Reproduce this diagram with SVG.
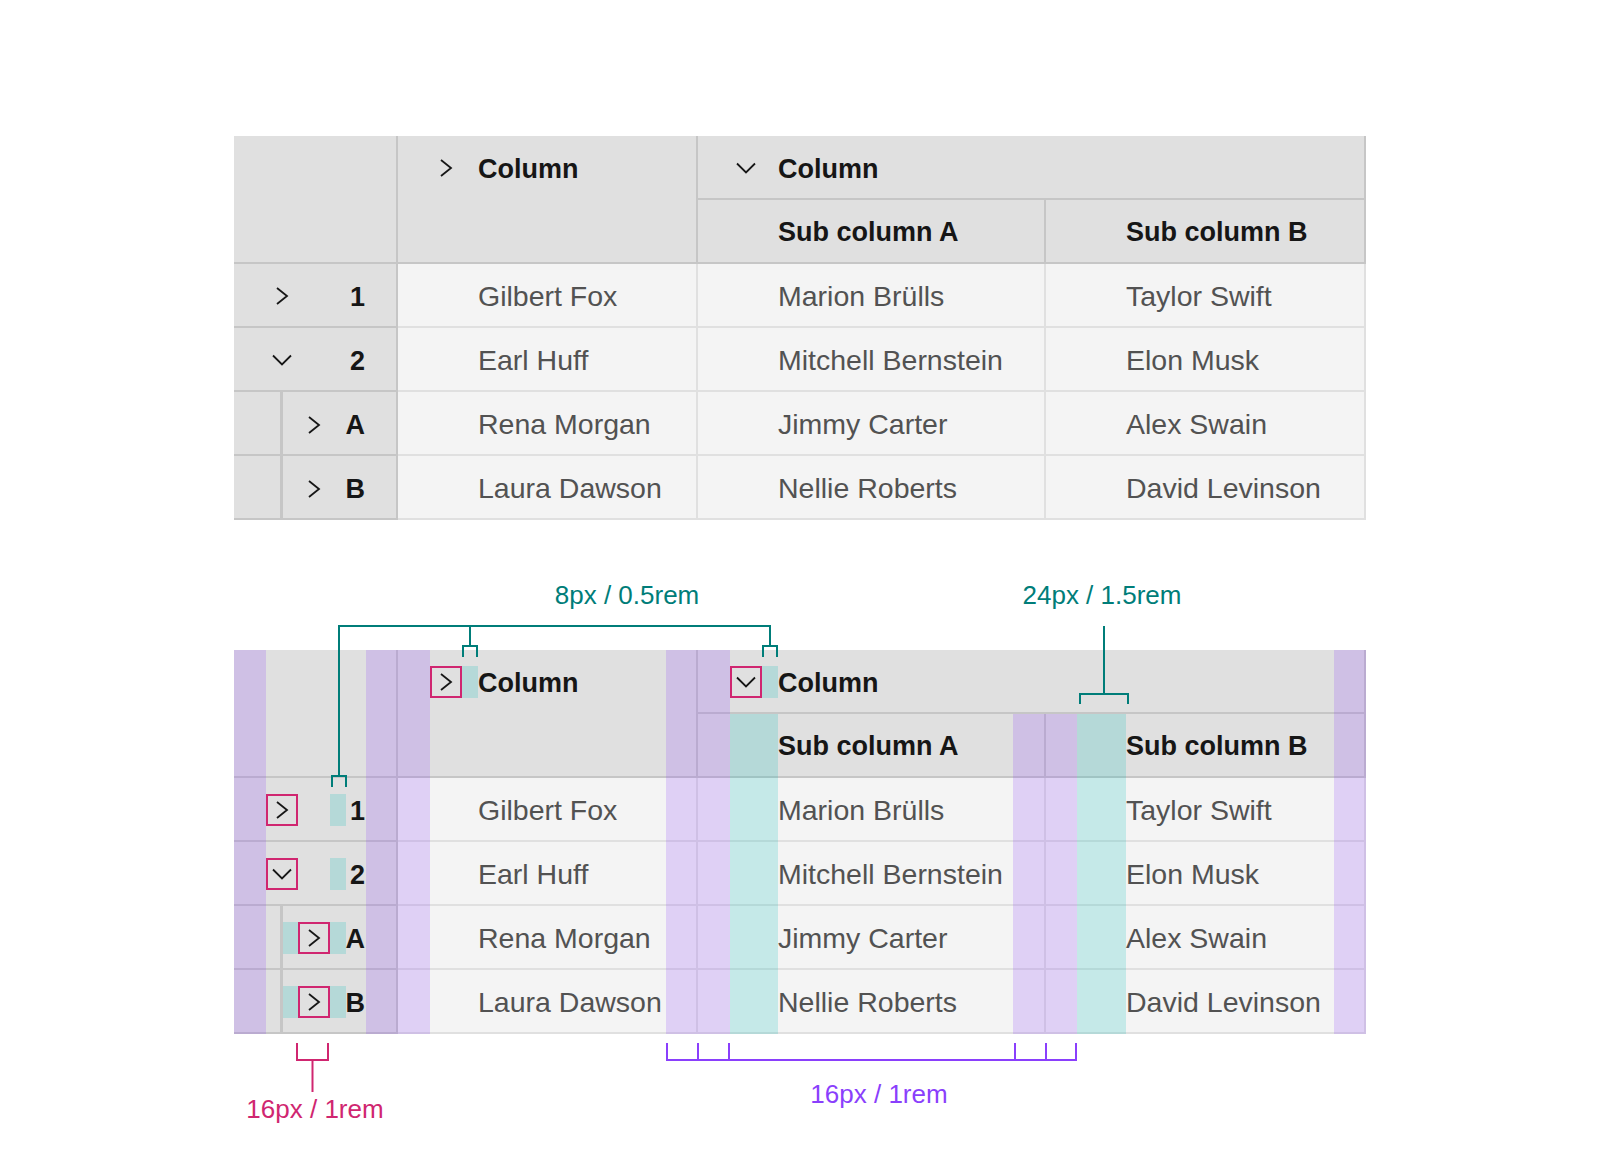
<svg xmlns="http://www.w3.org/2000/svg" xmlns:xlink="http://www.w3.org/1999/xlink" width="1600" height="1170" viewBox="0 0 1600 1170">
<style>
.hd{font-family:'Liberation Sans',Arial,sans-serif;font-weight:700;font-size:27px;fill:#161616}
.num{font-family:'Liberation Sans',Arial,sans-serif;font-weight:700;font-size:27px;fill:#161616;text-anchor:end}
.cell{font-family:'Liberation Sans',Arial,sans-serif;font-weight:400;font-size:28.5px;fill:#525252}
.lbl{font-family:'Liberation Sans',Arial,sans-serif;font-weight:400;font-size:26px;text-anchor:middle}
.hfill{fill:#e0e0e0}
.dfill{fill:#f4f4f4}
.ln1{fill:#c6c6c6}
.ln2{fill:#e0e0e0}
.chev{fill:none;stroke:#161616;stroke-width:1.8}
.pu{fill:#8a3ffc;fill-opacity:0.2}
.te{fill:#08bdba;fill-opacity:0.2}
.pk{fill:none;stroke:#d02670;stroke-width:2}
.cTeal{fill:none;stroke:#007d79;stroke-width:2}
.cPink{fill:none;stroke:#d02670;stroke-width:2}
.cPurple{fill:none;stroke:#8a3ffc;stroke-width:2}
</style>
<defs>
<path id="chr" class="chev" d="M-5,-8 L5,0 L-5,8"/>
<path id="chd" class="chev" d="M-9,-4.5 L0,4.5 L9,-4.5"/>
</defs>
<rect width="1600" height="1170" fill="#ffffff"/>

<!-- ===== Top table ===== -->
<g id="table-top">
  <g id="top-grid">
    <rect class="hfill" x="234" y="136" width="1132" height="128"/>
    <rect class="hfill" x="234" y="264" width="162" height="256"/>
    <rect class="dfill" x="396" y="264" width="970" height="256"/>
    <rect class="ln1" x="698" y="198" width="668" height="2"/>
    <rect class="ln1" x="234" y="262" width="1132" height="2"/>
    <rect class="ln1" x="696" y="136" width="2" height="128"/>
    <rect class="ln1" x="1044" y="200" width="2" height="64"/>
    <rect class="ln1" x="1364" y="136" width="2" height="128"/>
    <rect class="ln2" x="398" y="326" width="968" height="2"/>
    <rect class="ln2" x="398" y="390" width="968" height="2"/>
    <rect class="ln2" x="398" y="454" width="968" height="2"/>
    <rect class="ln2" x="398" y="518" width="968" height="2"/>
    <rect class="ln1" x="234" y="326" width="162" height="2"/>
    <rect class="ln1" x="234" y="390" width="162" height="2"/>
    <rect class="ln1" x="234" y="454" width="162" height="2"/>
    <rect class="ln1" x="234" y="518" width="162" height="2"/>
    <rect class="ln2" x="696" y="264" width="2" height="256"/>
    <rect class="ln2" x="1044" y="264" width="2" height="256"/>
    <rect class="ln2" x="1364" y="264" width="2" height="256"/>
    <rect class="ln1" x="396" y="136" width="2" height="384"/>
    <rect class="ln1" x="280" y="392" width="3" height="128"/>
  </g>
  <g id="top-header">
    <use xlink:href="#chr" x="446" y="168"/>
    <text class="hd" x="478" y="178">Column</text>
    <use xlink:href="#chd" x="746" y="168"/>
    <text class="hd" x="778" y="178">Column</text>
    <text class="hd" x="778" y="241">Sub column A</text>
    <text class="hd" x="1126" y="241">Sub column B</text>
  </g>
  <g id="top-row-1">
    <use xlink:href="#chr" x="282" y="296"/>
    <text class="num" x="365" y="306">1</text>
    <text class="cell" x="478" y="306">Gilbert Fox</text>
    <text class="cell" x="778" y="306">Marion Brülls</text>
    <text class="cell" x="1126" y="306">Taylor Swift</text>
  </g>
  <g id="top-row-2">
    <use xlink:href="#chd" x="282" y="360"/>
    <text class="num" x="365" y="370">2</text>
    <text class="cell" x="478" y="370">Earl Huff</text>
    <text class="cell" x="778" y="370">Mitchell Bernstein</text>
    <text class="cell" x="1126" y="370">Elon Musk</text>
  </g>
  <g id="top-row-A">
    <use xlink:href="#chr" x="314" y="425"/>
    <text class="num" x="365" y="434">A</text>
    <text class="cell" x="478" y="434">Rena Morgan</text>
    <text class="cell" x="778" y="434">Jimmy Carter</text>
    <text class="cell" x="1126" y="434">Alex Swain</text>
  </g>
  <g id="top-row-B">
    <use xlink:href="#chr" x="314" y="489"/>
    <text class="num" x="365" y="498">B</text>
    <text class="cell" x="478" y="498">Laura Dawson</text>
    <text class="cell" x="778" y="498">Nellie Roberts</text>
    <text class="cell" x="1126" y="498">David Levinson</text>
  </g>
</g>

<!-- ===== Bottom (annotated) table ===== -->
<g id="table-bottom">
  <g id="bottom-grid" transform="translate(0,514)">
    <rect class="hfill" x="234" y="136" width="1132" height="128"/>
    <rect class="hfill" x="234" y="264" width="162" height="256"/>
    <rect class="dfill" x="396" y="264" width="970" height="256"/>
    <rect class="ln1" x="698" y="198" width="668" height="2"/>
    <rect class="ln1" x="234" y="262" width="1132" height="2"/>
    <rect class="ln1" x="696" y="136" width="2" height="128"/>
    <rect class="ln1" x="1044" y="200" width="2" height="64"/>
    <rect class="ln1" x="1364" y="136" width="2" height="128"/>
    <rect class="ln2" x="398" y="326" width="968" height="2"/>
    <rect class="ln2" x="398" y="390" width="968" height="2"/>
    <rect class="ln2" x="398" y="454" width="968" height="2"/>
    <rect class="ln2" x="398" y="518" width="968" height="2"/>
    <rect class="ln1" x="234" y="326" width="162" height="2"/>
    <rect class="ln1" x="234" y="390" width="162" height="2"/>
    <rect class="ln1" x="234" y="454" width="162" height="2"/>
    <rect class="ln1" x="234" y="518" width="162" height="2"/>
    <rect class="ln2" x="696" y="264" width="2" height="256"/>
    <rect class="ln2" x="1044" y="264" width="2" height="256"/>
    <rect class="ln2" x="1364" y="264" width="2" height="256"/>
    <rect class="ln1" x="396" y="136" width="2" height="384"/>
    <rect class="ln1" x="280" y="392" width="3" height="128"/>
  </g>
  <g id="bottom-padding">
    <rect class="pu" x="234" y="650" width="32" height="384"/>
    <rect class="pu" x="366" y="650" width="64" height="384"/>
    <rect class="pu" x="666" y="650" width="64" height="384"/>
    <rect class="pu" x="1013" y="714" width="64" height="320"/>
    <rect class="pu" x="1334" y="650" width="32" height="384"/>
    <rect class="te" x="462" y="666" width="16" height="32"/>
    <rect class="te" x="762" y="666" width="16" height="32"/>
    <rect class="te" x="730" y="714" width="48" height="320"/>
    <rect class="te" x="1077" y="714" width="49" height="320"/>
    <rect class="te" x="330" y="794" width="16" height="32"/>
    <rect class="te" x="330" y="858" width="16" height="32"/>
    <rect class="te" x="283" y="922" width="15" height="32"/>
    <rect class="te" x="330" y="922" width="16" height="32"/>
    <rect class="te" x="283" y="986" width="15" height="32"/>
    <rect class="te" x="330" y="986" width="16" height="32"/>
  </g>
  <g id="bottom-header">
    <use xlink:href="#chr" x="446" y="682"/>
    <rect class="pk" x="431" y="667" width="30" height="30"/>
    <text class="hd" x="478" y="692">Column</text>
    <use xlink:href="#chd" x="746" y="682"/>
    <rect class="pk" x="731" y="667" width="30" height="30"/>
    <text class="hd" x="778" y="692">Column</text>
    <text class="hd" x="778" y="755">Sub column A</text>
    <text class="hd" x="1126" y="755">Sub column B</text>
  </g>
  <g id="bottom-row-1">
    <use xlink:href="#chr" x="282" y="810"/>
    <rect class="pk" x="267" y="795" width="30" height="30"/>
    <text class="num" x="365" y="820">1</text>
    <text class="cell" x="478" y="820">Gilbert Fox</text>
    <text class="cell" x="778" y="820">Marion Brülls</text>
    <text class="cell" x="1126" y="820">Taylor Swift</text>
  </g>
  <g id="bottom-row-2">
    <use xlink:href="#chd" x="282" y="874"/>
    <rect class="pk" x="267" y="859" width="30" height="30"/>
    <text class="num" x="365" y="884">2</text>
    <text class="cell" x="478" y="884">Earl Huff</text>
    <text class="cell" x="778" y="884">Mitchell Bernstein</text>
    <text class="cell" x="1126" y="884">Elon Musk</text>
  </g>
  <g id="bottom-row-A">
    <use xlink:href="#chr" x="314" y="938"/>
    <rect class="pk" x="299" y="923" width="30" height="30"/>
    <text class="num" x="365" y="948">A</text>
    <text class="cell" x="478" y="948">Rena Morgan</text>
    <text class="cell" x="778" y="948">Jimmy Carter</text>
    <text class="cell" x="1126" y="948">Alex Swain</text>
  </g>
  <g id="bottom-row-B">
    <use xlink:href="#chr" x="314" y="1002"/>
    <rect class="pk" x="299" y="987" width="30" height="30"/>
    <text class="num" x="365" y="1012">B</text>
    <text class="cell" x="478" y="1012">Laura Dawson</text>
    <text class="cell" x="778" y="1012">Nellie Roberts</text>
    <text class="cell" x="1126" y="1012">David Levinson</text>
  </g>
</g>

<!-- ===== Annotation connectors ===== -->
<g id="connectors">
  <path class="cTeal" d="M339,776 V626 H770 V646"/>
  <path class="cTeal" d="M470,626 V646"/>
  <path class="cTeal" d="M332,787 V776 H346 V787"/>
  <path class="cTeal" d="M463,657 V646 H477 V657"/>
  <path class="cTeal" d="M763,657 V646 H777 V657"/>
  <path class="cTeal" d="M1104,626 V694"/>
  <path class="cTeal" d="M1080,704 V694 H1128 V704"/>
  <path class="cPink" d="M297,1043 V1060 H328 V1043"/>
  <path class="cPink" d="M312.5,1060 V1092"/>
  <path class="cPurple" d="M667,1043 V1060 H1076 V1043"/>
  <path class="cPurple" d="M698,1043 V1060"/>
  <path class="cPurple" d="M729,1043 V1060"/>
  <path class="cPurple" d="M1015,1043 V1060"/>
  <path class="cPurple" d="M1046,1043 V1060"/>
</g>

<g id="labels">
  <text class="lbl" x="627" y="604" fill="#007d79">8px / 0.5rem</text>
  <text class="lbl" x="1102" y="604" fill="#007d79">24px / 1.5rem</text>
  <text class="lbl" x="315" y="1118" fill="#d02670">16px / 1rem</text>
  <text class="lbl" x="879" y="1103" fill="#8a3ffc">16px / 1rem</text>
</g>
</svg>
